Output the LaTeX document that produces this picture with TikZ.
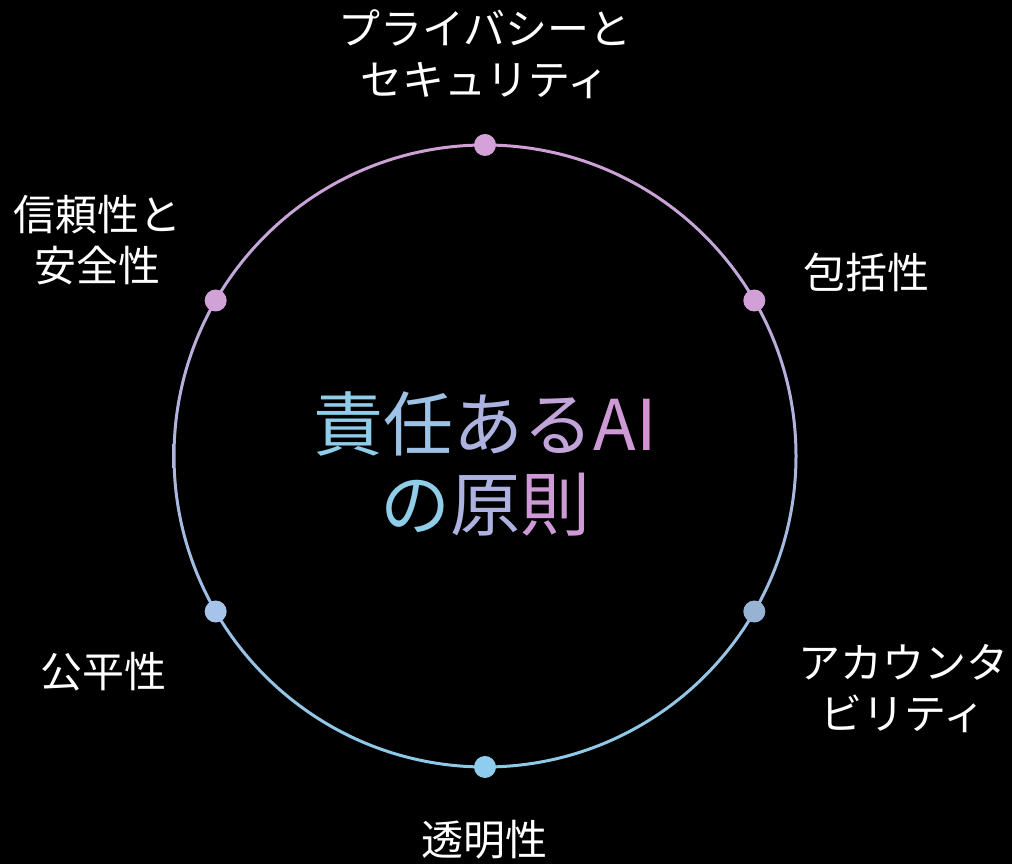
\documentclass[tikz,border=0pt]{standalone}
\usepackage{fontspec}
\newfontfamily\cjk{Noto Sans CJK JP}
\usetikzlibrary{positioning}
\definecolor{ringtop}{HTML}{CF9FD5}
\definecolor{ringbot}{HTML}{8CCBE8}
\definecolor{tA}{HTML}{8FCDE8}
\definecolor{tB}{HTML}{9CC2E6}
\definecolor{tC}{HTML}{AEB2E0}
\definecolor{tD}{HTML}{C2A4DA}
\definecolor{tE}{HTML}{CE9AD6}
\definecolor{tF}{HTML}{D494D2}
\tikzset{
	dot/.style={circle, inner sep=0pt, minimum size=22pt},
	lbl/.style={text=white, align=center, font=\cjk\fontsize{42}{51}\selectfont},
	title/.style={align=center, font=\cjk\fontsize{70}{80}\selectfont}
}

\begin{document}
\begin{tikzpicture}[x=1pt,y=1pt]
	\fill[black] (0,0) rectangle (1012,864);
	\useasboundingbox (0,0) rectangle (1012,864);
	\coordinate (c) at (485,408);
	\shade[even odd rule, top color=ringtop, bottom color=ringbot] (c) circle (312.5) circle (309.5);
	%
	\node[dot, fill={rgb,255:red,212;green,162;blue,216}] (d1) at ([shift={(90:311)}]c) {};
	\node[dot, fill={rgb,255:red,208;green,160;blue,214}] (d2) at ([shift={(30:311)}]c) {};
	\node[dot, fill={rgb,255:red,152;green,178;blue,212}] (d3) at ([shift={(-30:311)}]c) {};
	\node[dot, fill={rgb,255:red,142;green,205;blue,238}] (d4) at ([shift={(-90:311)}]c) {};
	\node[dot, fill={rgb,255:red,166;green,196;blue,234}] (d5) at ([shift={(210:311)}]c) {};
	\node[dot, fill={rgb,255:red,208;green,162;blue,216}] (d6) at ([shift={(150:311)}]c) {};
	%
	\node[title] (t) at (485,400) {\textcolor{tA}{責}\textcolor{tB}{任}\textcolor{tC}{あ}\textcolor{tD}{る}\textcolor{tE}{A}\textcolor{tF}{I}\\\textcolor{tA}{の}\textcolor{tC}{原}\textcolor{tE}{則}};
	%
	\node[lbl] (l1) at (485,810) {プライバシーと\\セキュリティ};
	\node[lbl] (l2) at (866,592) {包括性};
	\node[lbl] (l3) at (903,175) {アカウンタ\\ビリティ};
	\node[lbl] (l4) at (484,24) {透明性};
	\node[lbl] (l5) at (103,192) {公平性};
	\node[lbl] (l6) at (97,624) {信頼性と\\安全性};
\end{tikzpicture}
\end{document}
